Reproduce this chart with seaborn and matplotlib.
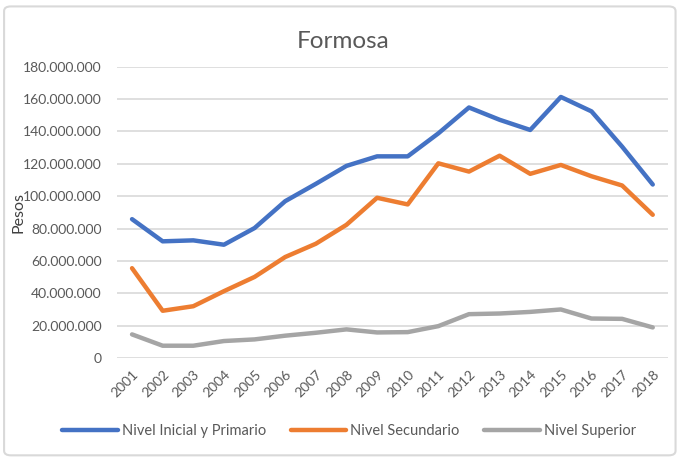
import matplotlib
matplotlib.use("Agg")
import matplotlib.pyplot as plt
import matplotlib.ticker as mticker
from matplotlib.patches import FancyBboxPatch
import seaborn as sns
import pandas as pd

years = [2001, 2002, 2003, 2004, 2005, 2006, 2007, 2008, 2009,
         2010, 2011, 2012, 2013, 2014, 2015, 2016, 2017, 2018]
inicial_primario = [85.8e6, 72.1e6, 72.7e6, 70.0e6, 80.3e6, 96.9e6, 107.6e6, 118.7e6, 124.6e6,
                    124.6e6, 138.8e6, 154.8e6, 147.2e6, 140.9e6, 161.3e6, 152.4e6, 130.6e6, 107.2e6]
secundario = [55.5e6, 29.2e6, 32.0e6, 41.3e6, 50.1e6, 62.4e6, 70.6e6, 82.3e6, 99.0e6,
              94.9e6, 120.3e6, 115.2e6, 125.0e6, 113.8e6, 119.3e6, 112.3e6, 106.6e6, 88.5e6]
superior = [14.6e6, 7.6e6, 7.6e6, 10.5e6, 11.5e6, 13.8e6, 15.6e6, 17.7e6, 15.8e6,
            16.0e6, 19.7e6, 27.1e6, 27.5e6, 28.5e6, 30.0e6, 24.4e6, 24.2e6, 18.9e6]
series_names = ["Nivel Inicial y Primario", "Nivel Secundario", "Nivel Superior"]
colors = ["#4472C4", "#ED7D31", "#A5A5A5"]

df = pd.DataFrame({
    "Año": years * 3,
    "Pesos": inicial_primario + secundario + superior,
    "Serie": [series_names[0]] * len(years) + [series_names[1]] * len(years) + [series_names[2]] * len(years),
})

sns.set_theme(style="white")
plt.rcParams["font.family"] = ["Lato", "DejaVu Sans"]

fig = plt.figure(figsize=(6.81, 4.59), dpi=100)
ax = fig.add_axes([0.1714, 0.220, 0.8096, 0.6347])

sns.lineplot(data=df, x="Año", y="Pesos", hue="Serie", palette=colors,
             linewidth=3.2, ax=ax, legend=True, solid_capstyle="round")

ax.set_xlim(years[0] - 0.5, years[-1] + 0.5)
ax.set_ylim(0, 180e6)
ax.set_yticks([i * 20e6 for i in range(10)])
ax.yaxis.set_major_formatter(mticker.FuncFormatter(lambda v, p: f"{v:,.0f}".replace(",", ".")))
ax.set_xticks(years)
ax.set_xticklabels([str(y) for y in years], rotation=45, ha="right", rotation_mode="anchor")
ax.tick_params(axis="both", colors="#595959", labelsize=10, length=0)
ax.tick_params(axis="y", pad=11)
ax.tick_params(axis="x", pad=7)
ax.grid(axis="y", color="#D9D9D9", linewidth=1.2)
ax.set_axisbelow(True)
for s in ax.spines.values():
    s.set_visible(False)
ax.set_xlabel("")
ax.set_ylabel("Pesos", color="#404040", fontsize=11.5)
ax.yaxis.set_label_coords(-0.1663, 0.501, transform=ax.transAxes)

fig.text(0.5045, 0.8948, "Formosa", ha="center", va="baseline", fontsize=17.5, color="#595959")

handles, labels = ax.get_legend_handles_labels()
ax.legend(handles, labels, loc="center", bbox_to_anchor=(0.5125, 0.0617),
          bbox_transform=fig.transFigure, ncol=3, frameon=False, fontsize=10.5,
          handlelength=3.8, handletextpad=0.27, columnspacing=1.7, labelcolor="#595959")

border = FancyBboxPatch((0.006, 0.008), 0.986, 0.978, boxstyle="round,pad=0,rounding_size=0.01",
                        transform=fig.transFigure, fill=False, edgecolor="#D9D9D9", linewidth=1.5)
fig.patches.append(border)

fig.savefig("out.png", dpi=100)
